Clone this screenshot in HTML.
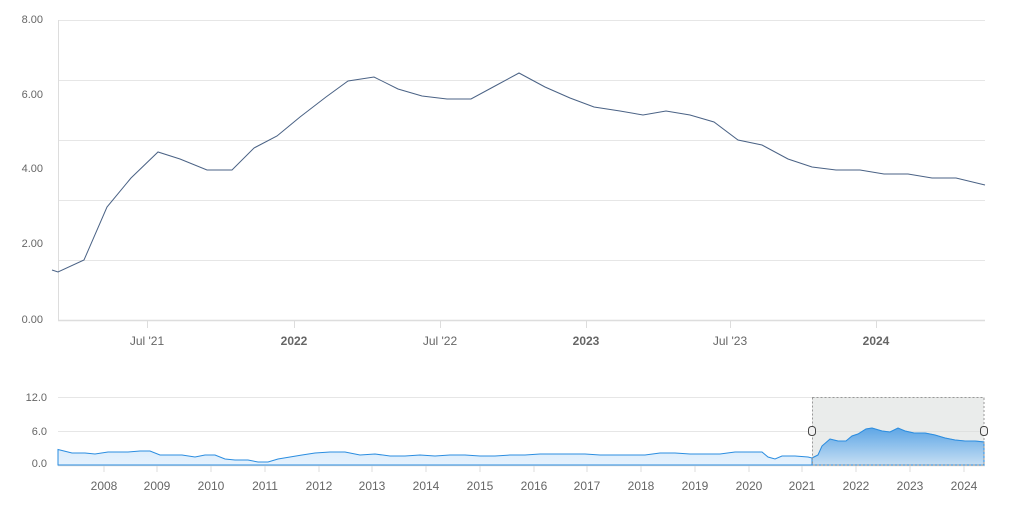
<!DOCTYPE html>
<html><head><meta charset="utf-8"><style>
body{margin:0;background:#fff;}
svg{display:block;font-family:"Liberation Sans",sans-serif;}
</style></head><body>
<svg width="1010" height="510" viewBox="0 0 1010 510">
<defs><linearGradient id="g1" x1="0" y1="0" x2="0" y2="1"><stop offset="0" stop-color="#cfe6fb"/><stop offset="1" stop-color="#e6f2fd"/></linearGradient>
<linearGradient id="g2" x1="0" y1="0" x2="0" y2="1"><stop offset="0" stop-color="#5ea6e6"/><stop offset="1" stop-color="#c5def3"/></linearGradient></defs>
<g stroke="#e6e6e6" stroke-width="1">
<line x1="58" y1="20.5" x2="985" y2="20.5"/><line x1="58" y1="80.5" x2="985" y2="80.5"/><line x1="58" y1="140.5" x2="985" y2="140.5"/><line x1="58" y1="200.5" x2="985" y2="200.5"/><line x1="58" y1="260.5" x2="985" y2="260.5"/>
</g>
<line x1="58.5" y1="20" x2="58.5" y2="320" stroke="#ddd"/>
<line x1="58" y1="320.5" x2="985" y2="320.5" stroke="#ddd" stroke-width="1.5"/>
<g stroke="#ddd"><line x1="147.5" y1="320" x2="147.5" y2="328"/><line x1="294.5" y1="320" x2="294.5" y2="328"/><line x1="440.5" y1="320" x2="440.5" y2="328"/><line x1="586.5" y1="320" x2="586.5" y2="328"/><line x1="730.5" y1="320" x2="730.5" y2="328"/><line x1="876.5" y1="320" x2="876.5" y2="328"/></g>
<g fill="#666" font-size="11" text-anchor="end"><text x="43" y="23">8.00</text><text x="43" y="98">6.00</text><text x="43" y="172">4.00</text><text x="43" y="247">2.00</text><text x="43" y="323">0.00</text></g>
<g fill="#666" font-size="12" text-anchor="middle"><text x="147" y="345">Jul '21</text><text x="294" y="345" font-weight="bold">2022</text><text x="440" y="345">Jul '22</text><text x="586" y="345" font-weight="bold">2023</text><text x="730" y="345">Jul '23</text><text x="876" y="345" font-weight="bold">2024</text></g>
<polyline fill="none" stroke="#4a6285" stroke-width="1" points="52,270 58,272 84,260 107,207 131,178 158,152 180,159 207,170 232,170 254,148 277,136 300,117 326,97 348,81 374,77 398,89 422,96 447,99 471,99 495,86 519,73 545,87 570,98 594,107 620,111 643,115 666,111 690,115 714,122 738,140 762,145 788,159 812,167 836,170 860,170 884,174 908,174 932,178 956,178 985,185"/>
<!-- navigator -->
<g stroke="#e6e6e6"><line x1="58" y1="397.5" x2="985" y2="397.5"/><line x1="58" y1="431.5" x2="985" y2="431.5"/></g>
<line x1="58" y1="465.5" x2="985" y2="465.5" stroke="#ddd" stroke-width="1.5"/>
<g fill="#666" font-size="11" text-anchor="end"><text x="47" y="401">12.0</text><text x="47" y="435">6.0</text><text x="47" y="467">0.0</text></g>
<g stroke="#ddd" id="tk"></g>
<g fill="#666" font-size="12" text-anchor="middle">
<text x="104" y="490">2008</text><text x="157" y="490">2009</text><text x="211" y="490">2010</text><text x="265" y="490">2011</text><text x="319" y="490">2012</text><text x="372" y="490">2013</text><text x="426" y="490">2014</text><text x="480" y="490">2015</text><text x="534" y="490">2016</text><text x="587" y="490">2017</text><text x="641" y="490">2018</text><text x="695" y="490">2019</text><text x="749" y="490">2020</text><text x="802" y="490">2021</text><text x="856" y="490">2022</text><text x="910" y="490">2023</text><text x="964" y="490">2024</text></g>
<path fill="url(#g1)" stroke="#2b8de0" stroke-width="1" d="M58,449.5 L64,451 L72,453 L85,453 L95,454 L108,452 L118,452 L128,452 L140,451 L150,451 L160,455 L170,455 L182,455 L195,457 L205,455 L215,455 L225,459 L235,460 L248,460 L258,462 L268,462 L278,459 L290,457 L302,455 L315,453 L330,452 L345,452 L360,455 L375,454 L390,456 L405,456 L420,455 L435,456 L450,455 L465,455 L480,456 L495,456 L510,455 L525,455 L540,454 L555,454 L570,454 L585,454 L600,455 L615,455 L630,455 L645,455 L660,453 L675,453 L690,454 L705,454 L720,454 L735,452 L750,452 L762,452 L768,457 L775,459 L782,456 L795,456 L808,457 L812,458 L818,455 L822,446 L830,439 L838,441 L846,441 L852,436 L858,434 L866,429 L872,428 L882,431 L890,432 L898,428 L905,431 L914,433 L925,433 L935,435 L945,438 L955,440 L965,441 L975,441 L984,442 L984,465 L58,465 Z"/>
<path fill="url(#g2)" opacity="0.55" d="M812,397 H984 V465 H812 Z" style="fill:#d9dcdb"/>
<path fill="url(#g2)" stroke="#2b8de0" stroke-width="1" d="M812,458 L818,455 L822,446 L830,439 L838,441 L846,441 L852,436 L858,434 L866,429 L872,428 L882,431 L890,432 L898,428 L905,431 L914,433 L925,433 L935,435 L945,438 L955,440 L965,441 L975,441 L984,442 L984,465 L812,465 Z"/>
<rect x="812.5" y="397.5" width="171.5" height="67.5" fill="none" stroke="#999" stroke-dasharray="2,2"/>
<rect x="808.5" y="426.5" width="7" height="9" rx="3" fill="#f2f2f2" stroke="#444"/>
<rect x="980.5" y="426.5" width="7" height="9" rx="3" fill="#f2f2f2" stroke="#444"/>
<g stroke="#ddd"><line x1="104" y1="466" x2="104" y2="472"/><line x1="157" y1="466" x2="157" y2="472"/><line x1="211" y1="466" x2="211" y2="472"/><line x1="265" y1="466" x2="265" y2="472"/><line x1="319" y1="466" x2="319" y2="472"/><line x1="372" y1="466" x2="372" y2="472"/><line x1="426" y1="466" x2="426" y2="472"/><line x1="480" y1="466" x2="480" y2="472"/><line x1="534" y1="466" x2="534" y2="472"/><line x1="587" y1="466" x2="587" y2="472"/><line x1="641" y1="466" x2="641" y2="472"/><line x1="695" y1="466" x2="695" y2="472"/><line x1="749" y1="466" x2="749" y2="472"/><line x1="802" y1="466" x2="802" y2="472"/><line x1="856" y1="466" x2="856" y2="472"/><line x1="910" y1="466" x2="910" y2="472"/><line x1="964" y1="466" x2="964" y2="472"/></g>
</svg>
</body></html>
